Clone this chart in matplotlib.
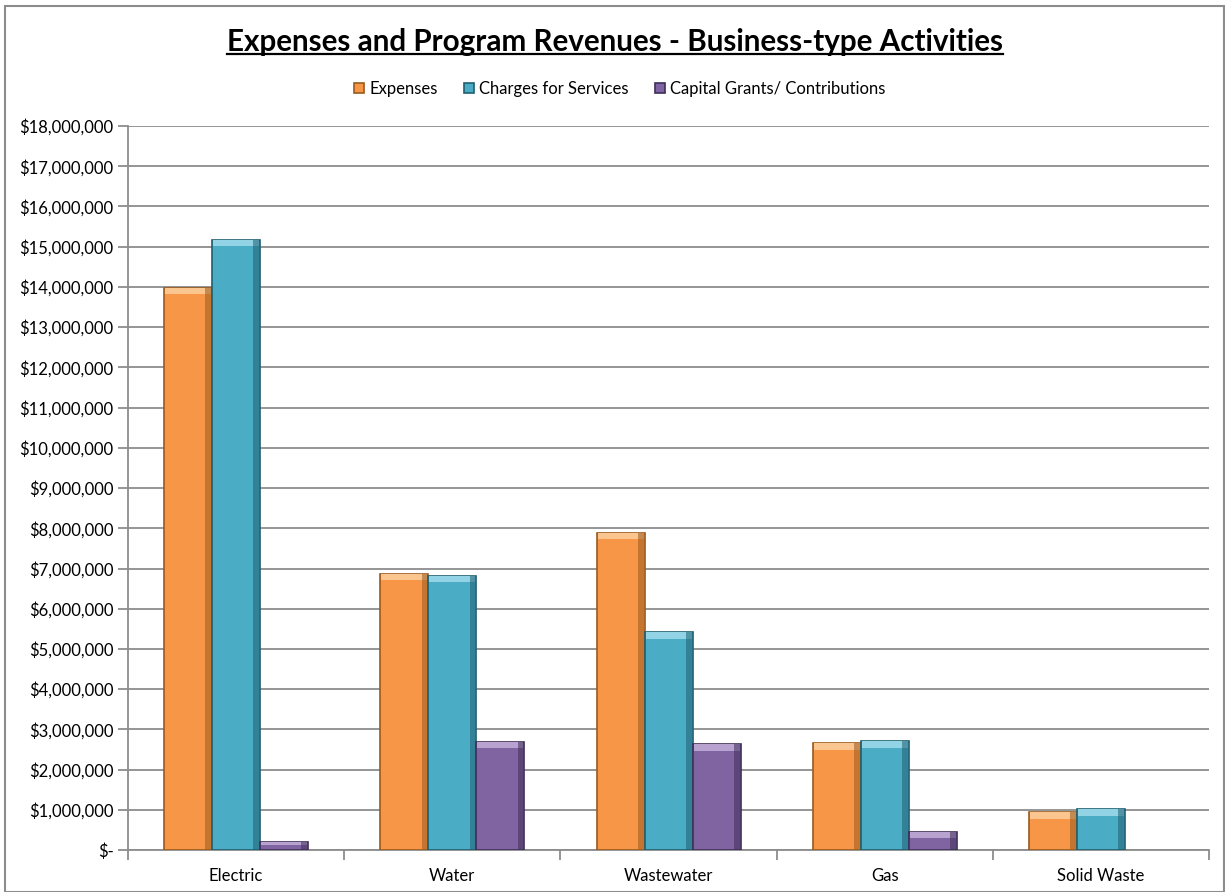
import matplotlib
matplotlib.use("Agg")
import matplotlib.pyplot as plt
import numpy as np
from matplotlib.patches import Rectangle
from matplotlib.lines import Line2D
from matplotlib.ticker import FuncFormatter, MultipleLocator

# data
categories = ["Electric", "Water", "Wastewater", "Gas", "Solid Waste"]
expenses = [13980000, 6870000, 7890000, 2660000, 940000]
charges = [15170000, 6820000, 5420000, 2700000, 1010000]
capital = [190000, 2690000, 2630000, 440000, 0]
series_names = ["Expenses", "Charges for Services", "Capital Grants/ Contributions"]

colors = ["#F79646", "#4BACC6", "#8064A2"]
light = ["#FBC58F", "#92D4E6", "#B7A2D0"]
edges = ["#9A5A1E", "#1F5F70", "#3F2E58"]

plt.rcParams['font.family'] = ['Lato', 'DejaVu Sans']

fig = plt.figure(figsize=(12.25, 8.92), dpi=100)
ax = fig.add_axes([0.1045, 0.047, 0.8825, 0.8117])

x = np.arange(len(categories))
w = 0.222
ymax = 18000000
for i, vals in enumerate([expenses, charges, capital]):
    vals = np.array(vals, dtype=float)
    lw = [1.2 if v > 0 else 0 for v in vals]
    ax.bar(x + (i - 1) * w, vals, w, color=colors[i], edgecolor=edges[i],
           linewidth=lw, label=series_names[i], zorder=3)
    # bevel: light strip on top, dark strip on the right
    strip = np.minimum(vals * 0.3, ymax * 0.009)
    ax.bar(x + (i - 1) * w, strip, w * 0.96, bottom=vals - strip,
           color=light[i], linewidth=0, zorder=4)
    ax.bar(x + (i - 1) * w + w * 0.42, vals, w * 0.12, color=edges[i],
           alpha=0.55, linewidth=0, zorder=4)

ax.set_xlim(-0.5, len(categories) - 0.5)
ax.set_ylim(0, ymax)
ax.yaxis.set_major_locator(MultipleLocator(1000000))


def money(v, pos):
    if v == 0:
        return "$-"
    return "${:,.0f}".format(v)


ax.yaxis.set_major_formatter(FuncFormatter(money))
ax.grid(axis='y', color='#8c8c8c', linewidth=1.3, zorder=0)
ax.set_axisbelow(True)

ax.set_xticks(x)
ax.set_xticklabels(categories, fontsize=12)
ax.tick_params(axis='x', length=0, pad=13)
ax.set_xticks(np.arange(-0.5, len(categories)), minor=True)
ax.tick_params(axis='x', which='minor', length=7, color='#8c8c8c', width=1.3)
ax.tick_params(axis='y', labelsize=12, length=7, color='#8c8c8c', width=1.3)

for s in ['top', 'right']:
    ax.spines[s].set_visible(False)
ax.spines['left'].set_color('#8c8c8c')
ax.spines['bottom'].set_color('#8c8c8c')
ax.spines['left'].set_linewidth(1.3)
ax.spines['bottom'].set_linewidth(1.3)

# title with underline
title = fig.text(0.502, 0.953, "Expenses and Program Revenues - Business-type Activities",
                 ha='center', va='center', fontsize=21.3, fontweight='bold')
fig.canvas.draw()
bb = title.get_window_extent().transformed(fig.transFigure.inverted())
fig.add_artist(Line2D([bb.x0, bb.x1], [bb.y0 + 0.002, bb.y0 + 0.002],
                      transform=fig.transFigure, color='black', linewidth=1.6))

handles, labels = ax.get_legend_handles_labels()
ax.legend(handles, labels, loc='upper center', bbox_to_anchor=(0.455, 1.083), ncol=3,
          frameon=False, fontsize=12, handlelength=0.6, handleheight=0.6,
          handletextpad=0.3, columnspacing=1.6)

# outer frame
fig.add_artist(Rectangle((0.004, 0.0), 0.995, 0.993, transform=fig.transFigure,
                         fill=False, edgecolor='#8c8c8c', linewidth=1.5))

fig.savefig("out.png", dpi=100)
